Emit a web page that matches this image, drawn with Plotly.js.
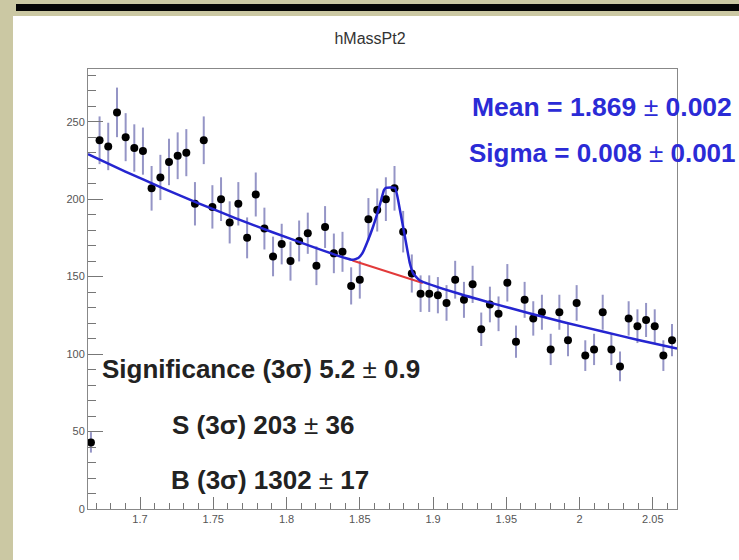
<!DOCTYPE html>
<html>
<head>
<meta charset="utf-8">
<script src="https://cdn.plot.ly/plotly-3.0.1.min.js"></script>
<style>
  html, body { margin: 0; padding: 0; background: #ffffff; }
  #chart { width: 739px; height: 560px; }
</style>
</head>
<body>
<div id="chart"></div>
<script>
// ---- data ----
const binCenters = [1.6665,1.6724,1.6783,1.6843,1.6902,1.6961,1.7020,1.7079,1.7139,1.7198,
  1.7257,1.7316,1.7375,1.7435,1.7494,1.7553,1.7612,1.7671,1.7731,1.7790,
  1.7849,1.7908,1.7967,1.8027,1.8086,1.8145,1.8204,1.8263,1.8323,1.8382,
  1.8441,1.8500,1.8559,1.8619,1.8678,1.8737,1.8796,1.8855,1.8915,1.8974,
  1.9033,1.9092,1.9151,1.9211,1.9270,1.9329,1.9388,1.9447,1.9507,1.9566,
  1.9625,1.9684,1.9743,1.9803,1.9862,1.9921,1.9980,2.0039,2.0099,2.0158,
  2.0217,2.0276,2.0335,2.0395,2.0454,2.0513,2.0572,2.0631];
const counts = [43,238,234,256,240,233,231,207,214,224,
  228,230,197,238,195,200,185,197,175,203,
  181,163,171,160,173,178,157,182,165,166,
  144,148,187,193,200,207,179,152,139,139,
  138,133,148,135,145,116,132,126,146,108,
  135,123,127,103,127,109,133,99,103,127,
  103,92,123,118,122,118,99,109];
const countErrors = [6.6,15.4,15.3,16.0,15.5,15.3,15.2,14.4,14.6,15.0,
  15.1,15.2,14.0,15.4,14.0,14.1,13.6,14.0,13.2,14.2,
  13.5,12.8,13.1,12.6,13.2,13.3,12.5,13.5,12.8,12.9,
  12.0,12.2,13.7,13.9,14.1,14.4,13.4,12.3,11.8,11.8,
  11.7,11.5,12.2,11.6,12.0,10.8,11.5,11.2,12.1,10.4,
  11.6,11.1,11.3,10.1,11.3,10.4,11.5,9.9,10.1,11.3,
  10.1,9.6,11.1,10.9,11.0,10.9,9.9,10.4];

// total fit curve (blue)
const fitX = [1.6645,1.69,1.715,1.74,1.765,1.79,1.815,1.84,1.845,1.849,1.852,1.855,1.859,1.8633,1.8665,1.8678,
  1.874,1.8774,1.8808,1.8842,1.8865,1.891,1.915,1.94,1.965,1.99,2.015,2.04,2.0665];
const fitY = [229,217.8,207.3,197.3,187.8,178.8,170.2,162.0,160.8,162.0,165.5,172,182,195,205.8,207.3,
  207.3,193,175.7,158.5,152,147.5,139.7,132.9,126.5,120.4,114.7,109.1,103.5];
// background under the signal window (red)
const bkgX = [1.845,1.855,1.865,1.875,1.885,1.893];
const bkgY = [160.4,157.3,154.2,151.2,148.2,145.9];

const titleText = "hMassPt2";
const meanText = "Mean = 1.869 <span style=\"font-weight:normal\">±</span> 0.002";
const sigmaText = "Sigma = 0.008 <span style=\"font-weight:normal\">±</span> 0.001";
const signifText = "Significance (3σ) 5.2 <span style=\"font-weight:normal\">±</span> 0.9";
const sText = "S (3σ) 203 <span style=\"font-weight:normal\">±</span> 36";
const bText = "B (3σ) 1302 <span style=\"font-weight:normal\">±</span> 17";

const xTicks = [1.7,1.75,1.8,1.85,1.9,1.95,2,2.05];
const xTickText = ["1.7","1.75","1.8","1.85","1.9","1.95","2","2.05"];
const yTicks = [0,50,100,150,200,250];

// ---- chart ----
const FONT = "Liberation Sans, Arial, Helvetica, sans-serif";

const traces = [
  {
    x: binCenters, y: counts, type: "scatter", mode: "markers",
    marker: { color: "#000000", size: 8, symbol: "circle" },
    error_y: { type: "data", array: countErrors, visible: true, color: "#9595c6", thickness: 2, width: 0 },
    hoverinfo: "x+y", showlegend: false
  },
  {
    x: bkgX, y: bkgY, type: "scatter", mode: "lines",
    line: { color: "#e23a3a", width: 2 }, showlegend: false
  },
  {
    x: fitX, y: fitY, type: "scatter", mode: "lines",
    line: { color: "#2525d0", width: 2.5, shape: "spline", smoothing: 0.4 }, showlegend: false
  }
];

// pixel -> paper helpers for decoration in the margins
const L = 88, R = 62, T = 69, B = 51, W = 739, H = 560;
const pw = W - L - R, ph = H - T - B;
const px = v => (v - L) / pw;
const py = v => (H - B - v) / ph;

const layout = {
  width: W, height: H,
  margin: { l: L, r: R, t: T, b: B, pad: 0 },
  paper_bgcolor: "#ffffff",
  plot_bgcolor: "#ffffff",
  font: { family: FONT, color: "#444444", size: 11 },
  title: {
    text: titleText, x: px(370), xanchor: "center", xref: "paper",
    y: 1 - 38 / H, yanchor: "middle", yref: "container",
    font: { family: FONT, size: 16, color: "#333333" }
  },
  xaxis: {
    range: [1.6645, 2.0665],
    tickvals: xTicks, ticktext: xTickText,
    ticks: "inside", ticklen: 12, tickwidth: 1, tickcolor: "#777777",
    minor: { dtick: 0.01, tick0: 1.7, ticks: "inside", ticklen: 6, tickcolor: "#777777", tickwidth: 1 },
    showgrid: false, zeroline: false,
    showline: true, linecolor: "#888888", linewidth: 1, mirror: true,
    tickfont: { family: FONT, size: 11, color: "#555555" }
  },
  yaxis: {
    range: [0, 284],
    tickvals: yTicks,
    ticks: "inside", ticklen: 15, tickwidth: 1, tickcolor: "#777777",
    minor: { dtick: 10, tick0: 0, ticks: "inside", ticklen: 8, tickcolor: "#777777", tickwidth: 1 },
    showgrid: false, zeroline: false,
    showline: true, linecolor: "#888888", linewidth: 1, mirror: true,
    tickfont: { family: FONT, size: 11, color: "#555555" }
  },
  shapes: [
    { type: "rect", xref: "paper", yref: "paper", x0: px(0), x1: px(13), y0: py(H), y1: py(0),
      fillcolor: "#cbc8a3", line: { width: 0 }, layer: "below" },
    { type: "rect", xref: "paper", yref: "paper", x0: px(0), x1: px(W), y0: py(16), y1: py(0),
      fillcolor: "#cbc8a3", line: { width: 0 }, layer: "below" },
    { type: "rect", xref: "paper", yref: "paper", x0: px(16), x1: px(W), y0: py(11), y1: py(4),
      fillcolor: "#050505", line: { width: 0 }, layer: "above" }
  ],
  annotations: [
    { text: "<b>" + meanText + "</b>", xref: "paper", yref: "paper", x: px(470), y: py(107),
      xanchor: "left", yanchor: "middle", showarrow: false,
      font: { family: FONT, size: 26.5, color: "#2b2bd6" } },
    { text: "<b>" + sigmaText + "</b>", xref: "paper", yref: "paper", x: px(467), y: py(153),
      xanchor: "left", yanchor: "middle", showarrow: false,
      font: { family: FONT, size: 26, color: "#2b2bd6" } },
    { text: "<b>" + signifText + "</b>", xref: "paper", yref: "paper", x: px(100), y: py(369),
      xanchor: "left", yanchor: "middle", showarrow: false,
      font: { family: FONT, size: 26, color: "#222222" } },
    { text: "<b>" + sText + "</b>", xref: "paper", yref: "paper", x: px(170), y: py(425),
      xanchor: "left", yanchor: "middle", showarrow: false,
      font: { family: FONT, size: 26, color: "#222222" } },
    { text: "<b>" + bText + "</b>", xref: "paper", yref: "paper", x: px(169), y: py(480),
      xanchor: "left", yanchor: "middle", showarrow: false,
      font: { family: FONT, size: 26, color: "#222222" } }
  ],
  showlegend: false
};

Plotly.newPlot("chart", traces, layout, { displayModeBar: false, staticPlot: true });
</script>
</body>
</html>
